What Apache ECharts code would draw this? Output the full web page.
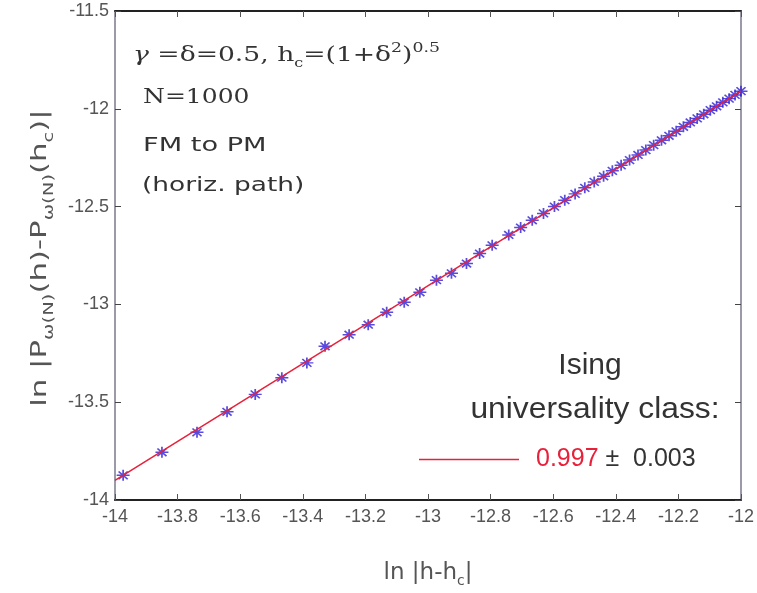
<!DOCTYPE html>
<html><head><meta charset="utf-8">
<script src="https://cdn.jsdelivr.net/npm/echarts@6/dist/echarts.min.js"></script>
<style>html,body{margin:0;padding:0;background:#fff}#c{width:757px;height:593px}</style>
</head><body><div id="c"></div>
<script>
// ln|h-hc| values of the data points
const dataX = [-13.974, -13.850, -13.738, -13.642, -13.552, -13.467, -13.387, -13.329, -13.252, -13.191,
  -13.132, -13.076, -13.026, -12.973, -12.925, -12.877, -12.835, -12.795, -12.742, -12.704,
  -12.667, -12.631, -12.596, -12.563, -12.530, -12.499, -12.469, -12.439, -12.411, -12.383,
  -12.356, -12.329, -12.304, -12.279, -12.254, -12.230, -12.207, -12.184, -12.162, -12.140,
  -12.119, -12.098, -12.078, -12.058, -12.038, -12.019, -12.000];
// ln|P(h)-P(hc)| values of the data points
const dataY = [-13.874, -13.756, -13.654, -13.549, -13.460, -13.375, -13.299, -13.214, -13.155, -13.104,
  -13.040, -12.989, -12.938, -12.876, -12.841, -12.791, -12.740, -12.698, -12.645, -12.607,
  -12.570, -12.535, -12.500, -12.467, -12.435, -12.404, -12.374, -12.345, -12.317, -12.289,
  -12.262, -12.236, -12.211, -12.186, -12.161, -12.138, -12.115, -12.092, -12.070, -12.049,
  -12.028, -12.007, -11.987, -11.967, -11.948, -11.929, -11.910];
// fitted line end points
const fitX = [-14, -12];
const fitY = [-13.90, -11.91];
// axis ranges
const xRange = [-14, -12, 0.2];
const yRange = [-14, -11.5, 0.5];

const chart = echarts.init(document.getElementById('c'));
const labelFont = {fontFamily: 'Liberation Sans', fontSize: 18, color: '#555'};
const subRich = {s: {fontSize: 14, verticalAlign: 'bottom', lineHeight: 14, fontFamily: 'DejaVu Sans', color: '#555'}};

chart.setOption({
  animation: false,
  backgroundColor: '#fff',
  grid: {left: 115, right: 14, top: 11, bottom: 90},
  xAxis: [{
    type: 'value', min: xRange[0], max: xRange[1], interval: xRange[2], position: 'bottom',
    axisLine: {lineStyle: {color: '#222', width: 2}},
    axisTick: {inside: true, length: 6, lineStyle: {color: '#555'}},
    axisLabel: Object.assign({margin: 8}, labelFont),
    splitLine: {show: false},
    name: 'ln |h-h{s|c}|', nameLocation: 'middle', nameGap: 58,
    nameTextStyle: {fontFamily: 'DejaVu Sans', fontSize: 23, color: '#555', lineHeight: 30, rich: subRich}
  }, {
    type: 'value', min: xRange[0], max: xRange[1], interval: xRange[2], position: 'top',
    axisLine: {lineStyle: {color: '#222', width: 2}},
    axisTick: {inside: true, length: 6, lineStyle: {color: '#555'}},
    axisLabel: {show: false}, splitLine: {show: false}
  }],
  yAxis: [{
    type: 'value', min: yRange[0], max: yRange[1], interval: yRange[2], position: 'left',
    axisLine: {lineStyle: {color: '#9a9aa8', width: 2}},
    axisTick: {inside: true, length: 6, lineStyle: {color: '#444'}},
    axisLabel: Object.assign({margin: 6}, labelFont),
    splitLine: {show: false}
  }, {
    type: 'value', min: yRange[0], max: yRange[1], interval: yRange[2], position: 'right',
    axisLine: {lineStyle: {color: '#9a9aa8', width: 2}},
    axisTick: {inside: true, length: 6, lineStyle: {color: '#444'}},
    axisLabel: {show: false}, splitLine: {show: false}
  }],
  legend: {
    left: 414, top: 442, itemWidth: 100, itemHeight: 1.5,
    data: [{name: 'fit', icon: 'rect'}],
    formatter: () => '{r|0.997} ±  0.003',
    textStyle: {fontFamily: 'Liberation Sans', fontSize: 25, color: '#333',
      rich: {r: {fontFamily: 'Liberation Sans', fontSize: 25, color: '#e8203a', padding: [0, 0, 0, 12]}}}
  },
  graphic: [
    {type: 'text', x: 40, y: 258, rotation: Math.PI / 2, scaleX: 1.4, style: {
      text: 'ln |P{s|ω(N)}(h)-P{s|ω(N)}(h{s|c})|', fontFamily: 'DejaVu Sans', fontSize: 22, fill: '#555',
      align: 'center', verticalAlign: 'middle', lineHeight: 32,
      rich: {s: {fontSize: 14, verticalAlign: 'bottom', lineHeight: 14, fontFamily: 'DejaVu Sans', fill: '#555'}}}},
    {type: 'text', x: 133, y: 56, scaleX: 1.33, style: {
      text: '{g|γ} =δ=0.5, h{b|c}=(1+δ{p|2}){p|0.5}', fontFamily: 'DejaVu Serif', fontSize: 20, fill: '#333',
      verticalAlign: 'middle', align: 'left', lineHeight: 28,
      rich: {g: {fontStyle: 'italic', fontFamily: 'DejaVu Serif', fontSize: 20, fill: '#333'},
        b: {fontSize: 12, verticalAlign: 'bottom', lineHeight: 12, fontFamily: 'DejaVu Serif', fill: '#333'},
        p: {fontSize: 13, verticalAlign: 'top', lineHeight: 13, fontFamily: 'DejaVu Serif', fill: '#333'}}}},
    {type: 'text', x: 143, y: 98, scaleX: 1.25, style: {text: 'N=1000', fontFamily: 'DejaVu Serif', fontSize: 20,
      fill: '#333', verticalAlign: 'middle', align: 'left'}},
    {type: 'text', x: 143, y: 146, scaleX: 1.36, style: {text: 'FM to PM', fontFamily: 'DejaVu Sans', fontSize: 20,
      fill: '#333', verticalAlign: 'middle', align: 'left'}},
    {type: 'text', x: 142, y: 186, scaleX: 1.32, style: {text: '(horiz. path)', fontFamily: 'DejaVu Sans', fontSize: 20,
      fill: '#333', verticalAlign: 'middle', align: 'left'}},
    {type: 'text', x: 590, y: 366, style: {text: 'Ising', fontFamily: 'Liberation Sans', fontSize: 30,
      fill: '#333', verticalAlign: 'middle', align: 'center'}},
    {type: 'text', x: 595, y: 410, scaleX: 1.06, style: {text: 'universality class:', fontFamily: 'Liberation Sans', fontSize: 30,
      fill: '#333', verticalAlign: 'middle', align: 'center'}}
  ],
  series: [{
    name: 'points', type: 'scatter', xAxisIndex: 0, yAxisIndex: 0,
    data: dataX.map((x, i) => [x, dataY[i]]),
    symbol: 'path://M0,5L10,5M5,0L5,10M1.5,1.5L8.5,8.5M8.5,1.5L1.5,8.5',
    symbolSize: [13, 11],
    itemStyle: {color: 'rgba(0,0,0,0)', borderColor: '#2f1fd4', borderWidth: 1.6},
    z: 2
  }, {
    name: 'fit', type: 'line', xAxisIndex: 0, yAxisIndex: 0,
    data: fitX.map((x, i) => [x, fitY[i]]),
    showSymbol: false, symbol: 'none', color: '#e8203a',
    lineStyle: {color: '#e8203a', width: 1.5},
    z: 3
  }]
});
</script></body></html>
